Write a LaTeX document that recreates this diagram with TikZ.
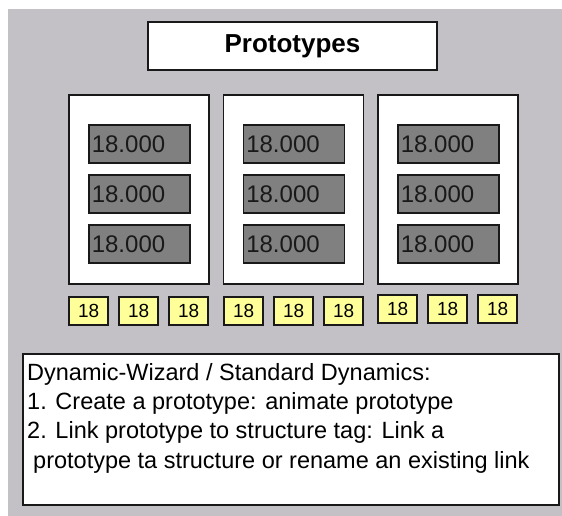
\documentclass[tikz,border=0pt]{standalone}
\usepackage{fontspec}
\setmainfont{Liberation Sans}
\definecolor{bgGray}{RGB}{195,193,198}
\definecolor{cellGray}{RGB}{128,128,128}
\definecolor{tagYellow}{RGB}{255,255,153}
\definecolor{edgeDark}{RGB}{25,25,25}
\tikzset{
  titlebox/.style={draw=edgeDark, line width=1.6pt, fill=white, inner sep=0pt,
    minimum width=289pt, minimum height=48pt,
    font=\fontsize{26}{30}\selectfont\bfseries},
  panelbox/.style={draw=edgeDark, line width=1.6pt, fill=white, inner sep=0pt,
    anchor=north west, minimum width=140pt, minimum height=189pt},
  valuebox/.style={draw=edgeDark, line width=1.6pt, fill=cellGray, inner sep=0pt,
    anchor=north west, minimum width=101pt, minimum height=38pt,
    text width=97pt, align=left, font=\fontsize{24}{26}\selectfont,
    text=black!90},
  tagbox/.style={draw=edgeDark, line width=2.2pt, fill=tagYellow, inner sep=0pt,
    anchor=north west, minimum width=39pt, minimum height=28pt,
    font=\fontsize{19}{21}\selectfont},
  notebox/.style={draw=edgeDark, line width=1.6pt, fill=white, inner sep=0pt,
    anchor=north west, minimum width=536pt, minimum height=151pt},
  notetext/.style={anchor=north west, inner sep=0pt, align=left,
    font=\fontsize{23.5}{29.3}\selectfont}
}
\begin{document}
\begin{tikzpicture}[x=1pt, y=-1pt]
  % canvas
  \fill[bgGray] (8,9) rectangle (562,516);
  \useasboundingbox (0,0) rectangle (562,516);

  % heading
  \node[titlebox] (title) at (292.5,46) {Prototypes};

  % three prototype panels, each holding three value fields
  \foreach \p/\px in {1/68, 2/222.5, 3/377} {
    \node[panelbox] (panel\p) at (\px,94) {};
    \foreach \v in {1,2,3} {
      \node[valuebox] (val\p\v) at (\px+20, 124+50*\v-50) {\hspace{1pt}18.000};
    }
  }

  % yellow tag fields below the panels
  \foreach \t/\tx/\ty in {1/68/296, 2/118/296, 3/168/296,
                          4/223/296, 5/273/296, 6/323/296,
                          7/377/294, 8/427/294, 9/477/294} {
    \node[tagbox] (tag\t) at (\tx,\ty) {18};
  }

  % description box
  \node[notebox] (note) at (22,353) {};
  \node[notetext] (notetxt) at (note.north west) [xshift=5pt, yshift=-10pt]
    {Dynamic-Wizard / Standard Dynamics:\\
     1. Create a prototype: animate prototype\\
     2. Link prototype to structure tag: Link a\\
     \hspace{6pt}prototype ta structure or rename an existing link};
\end{tikzpicture}
\end{document}
